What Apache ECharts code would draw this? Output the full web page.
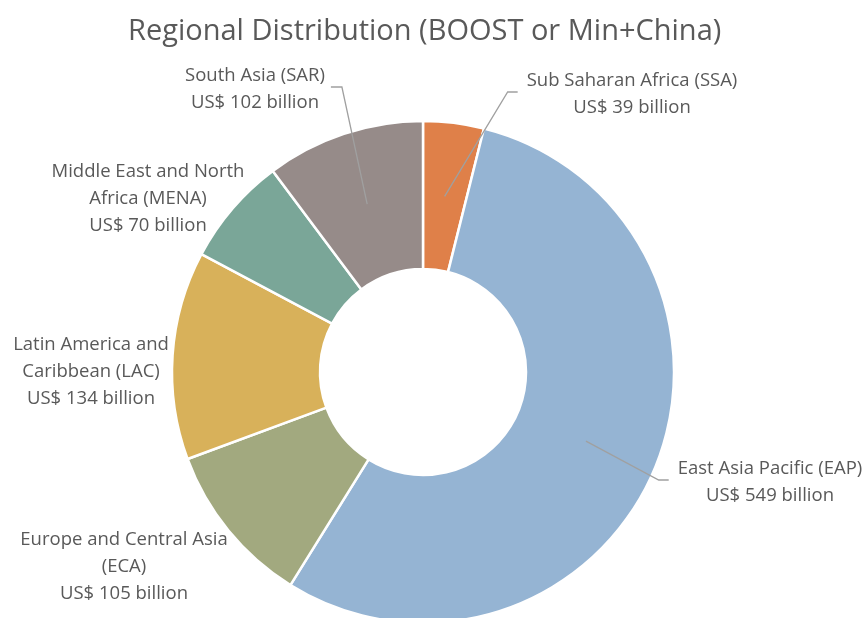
<!DOCTYPE html>
<html>
<head>
<meta charset="utf-8">
<title>Regional Distribution</title>
<script src="https://cdn.jsdelivr.net/npm/echarts@6/dist/echarts.min.js"></script>
<style>
  html, body { margin: 0; padding: 0; background: #fff; }
  #main { width: 868px; height: 618px; }
</style>
</head>
<body>
<div id="main"></div>
<script>
// data
var regions = [
  'Sub Saharan Africa (SSA)',
  'East Asia Pacific (EAP)',
  'Europe and Central Asia\n(ECA)',
  'Latin America and\nCaribbean (LAC)',
  'Middle East and North\nAfrica (MENA)',
  'South Asia (SAR)'
];
var amounts = [39, 549, 105, 134, 70, 102];   // US$ billion
var colors = ['#DF8049', '#95B4D3', '#A2A97F', '#D8B15A', '#7AA698', '#968B89'];

// label placement (block centre) and whether a leader line is drawn
var labelAnchors = [[632, 94], [770, 482], [124, 567], [91, 372], [148, 199], [255, 89]];
var hasLine = [true, true, false, false, false, true];

var cx = 423, cy = 372, rIn = 103, rOut = 251;

var total = 0;
amounts.forEach(function(v){ total += v; });

// point in the middle of the ring at the middle of slice i
function midPoint(i){
  var before = 0;
  for (var k = 0; k < i; k++) before += amounts[k];
  var ang = (before + amounts[i] / 2) / total * Math.PI * 2;
  var r = (rIn + rOut) / 2;
  return [cx + r * Math.sin(ang), cy - r * Math.cos(ang)];
}

var chart = echarts.init(document.getElementById('main'));

var sliceData = regions.map(function(n, i){
  return { name: n, value: amounts[i], itemStyle: { color: colors[i] } };
});
// same slices again, invisible, only carrying labels so the leader lines sit above the ring
var labelData = regions.map(function(n, i){
  return { name: n, value: amounts[i], labelLine: { show: hasLine[i] } };
});

chart.setOption({
  animation: false,
  title: {
    text: 'Regional Distribution (BOOST or Min+China)',
    left: 123,
    top: 12,
    textStyle: {
      fontFamily: 'Open Sans',
      fontSize: 29,
      fontWeight: 'normal',
      color: '#595959'
    }
  },
  series: [{
    type: 'pie',
    z: 2,
    center: [cx, cy],
    radius: [rIn, rOut],
    startAngle: 90,
    clockwise: true,
    silent: true,
    itemStyle: { borderColor: '#fff', borderWidth: 2.5 },
    label: { show: false },
    labelLine: { show: false },
    data: sliceData
  }, {
    type: 'pie',
    z: 5,
    center: [cx, cy],
    radius: [rIn, rOut],
    startAngle: 90,
    clockwise: true,
    silent: true,
    avoidLabelOverlap: false,
    itemStyle: { color: 'rgba(0,0,0,0)', borderWidth: 0 },
    label: {
      show: true,
      position: 'outside',
      formatter: function(p){ return p.name + '\nUS$ ' + p.value + ' billion'; },
      fontFamily: 'Open Sans',
      fontSize: 18.5,
      lineHeight: 27,
      color: '#595959',
      align: 'center'
    },
    labelLine: {
      showAbove: true,
      lineStyle: { color: '#A0A0A0', width: 1.3 }
    },
    labelLayout: function(p){
      var i = p.dataIndex;
      var a = labelAnchors[i];
      var out = { x: a[0], y: a[1], align: 'center', verticalAlign: 'middle' };
      if (hasLine[i]) {
        var s = midPoint(i);
        var w = p.labelRect.width;
        var lineY = a[1] - 2;
        var end, bend;
        if (s[0] > a[0]) {
          end = [a[0] + w / 2 + 6, lineY];
          bend = [end[0] + 11, lineY];
        } else {
          end = [a[0] - w / 2 - 9, lineY];
          bend = [end[0] - 10, lineY];
        }
        out.labelLinePoints = [s, bend, end];
      }
      return out;
    },
    data: labelData
  }]
});
</script>
</body>
</html>
